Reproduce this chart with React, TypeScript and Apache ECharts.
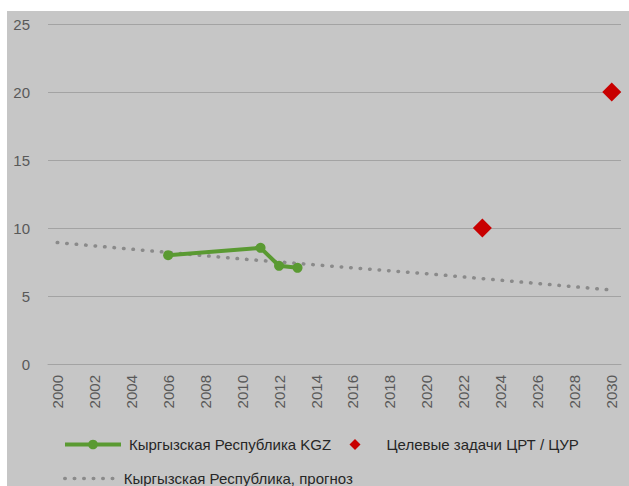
import { useEffect, useRef } from "react";
import * as echarts from "echarts";

const years = [
  "2000", "2001", "2002", "2003", "2004", "2005", "2006", "2007", "2008", "2009",
  "2010", "2011", "2012", "2013", "2014", "2015", "2016", "2017", "2018", "2019",
  "2020", "2021", "2022", "2023", "2024", "2025", "2026", "2027", "2028", "2029", "2030",
];

const kgzYears = ["2006", "2011", "2012", "2013"];
const kgzValues = [8.0, 8.54, 7.22, 7.07];

const trendYears = ["2000", "2010", "2020", "2030"];
const trendValues = [8.93, 7.72, 6.64, 5.44];

const targetYears = ["2023", "2030"];
const targetValues = [10, 20];

const yMin = 0;
const yMax = 25;
const yStep = 5;

const NAME_KGZ = "Кыргызская Республика KGZ";
const NAME_TARGET = "Целевые задачи ЦРТ / ЦУР";
const NAME_TREND = "Кыргызская Республика, прогноз";

const zip = (xs: string[], vs: number[]) => xs.map((x, i) => [x, vs[i]]);

const LEGEND_FONT = "'Liberation Sans', Arial, sans-serif";
const AXIS_FONT = "'Liberation Sans', Arial, sans-serif";

export default function App() {
  const ref = useRef<HTMLDivElement>(null);

  useEffect(() => {
    if (!ref.current) return;
    const chart = echarts.init(ref.current, undefined, { renderer: "svg" });
    const legendText = { fontFamily: LEGEND_FONT, fontSize: 15, color: "#262626" };
    chart.setOption({
      animation: false,
      backgroundColor: "#c6c6c6",
      grid: { left: 41, right: 8, top: 13, bottom: 122, containLabel: false },
      xAxis: {
        type: "category",
        data: years,
        boundaryGap: true,
        axisLine: { show: true, lineStyle: { color: "#a3a3a3", width: 1 } },
        axisTick: { show: false },
        axisLabel: {
          interval: 1,
          rotate: 90,
          margin: 11,
          color: "#595959",
          fontFamily: AXIS_FONT,
          fontSize: 15,
        },
        splitLine: { show: false },
      },
      yAxis: {
        type: "value",
        min: yMin,
        max: yMax,
        interval: yStep,
        axisLine: { show: false },
        axisTick: { show: false },
        axisLabel: { margin: 18, color: "#595959", fontFamily: AXIS_FONT, fontSize: 15 },
        splitLine: { lineStyle: { color: "#a3a3a3", width: 1 } },
      },
      legend: [
        {
          data: [NAME_KGZ],
          left: 56,
          top: 426,
          padding: 0,
          itemWidth: 56,
          itemHeight: 12,
          lineStyle: { width: 4 },
          textStyle: { ...legendText, padding: [0, 0, 0, 3] },
          selectedMode: false,
        },
        {
          data: [NAME_TARGET],
          left: 342.5,
          top: 426,
          padding: 0,
          itemWidth: 11,
          itemHeight: 11,
          itemStyle: { opacity: 1 },
          textStyle: { ...legendText, padding: [0, 0, 0, 21] },
          selectedMode: false,
        },
        {
          data: [NAME_TREND],
          left: 56,
          top: 460,
          padding: 0,
          itemWidth: 49,
          itemHeight: 12,
          lineStyle: { width: 3.5 },
          itemStyle: { opacity: 0 },
          textStyle: { ...legendText, padding: [0, 0, 0, 5] },
          selectedMode: false,
        },
      ],
      series: [
        {
          name: NAME_TREND,
          type: "line",
          data: zip(trendYears, trendValues),
          symbol: "none",
          lineStyle: { color: "#8a8a8a", width: 3.5, type: [0.5, 9], cap: "round" },
          itemStyle: { color: "#8a8a8a" },
          silent: true,
          z: 1,
        },
        {
          name: NAME_KGZ,
          type: "line",
          data: zip(kgzYears, kgzValues),
          symbol: "circle",
          symbolSize: 10,
          lineStyle: { color: "#5a9a32", width: 4 },
          itemStyle: { color: "#5a9a32" },
          z: 2,
        },
        {
          name: NAME_TARGET,
          type: "scatter",
          data: zip(targetYears, targetValues),
          symbol: "diamond",
          symbolSize: 19,
          itemStyle: { color: "#c80000", opacity: 1 },
          z: 3,
        },
      ],
    });
    return () => chart.dispose();
  }, []);

  return (
    <div style={{ position: "fixed", left: 0, top: 0, width: 629, height: 486, background: "#ffffff", overflow: "hidden" }}>
      <div ref={ref} style={{ position: "absolute", left: 7, top: 11, width: 622, height: 475 }} />
    </div>
  );
}
